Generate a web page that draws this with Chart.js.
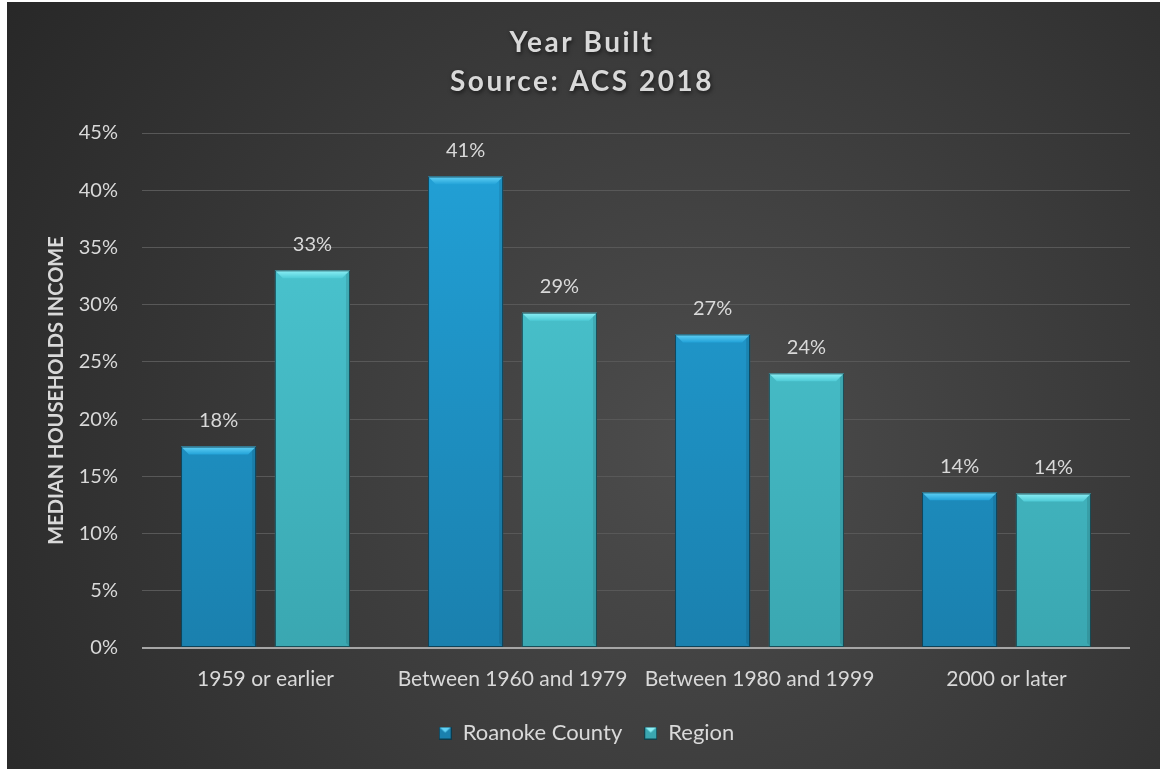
<!DOCTYPE html>
<html>
<head>
<meta charset="utf-8">
<script src="https://cdn.jsdelivr.net/npm/chart.js@4.4.1/dist/chart.umd.min.js"></script>
<style>
  html, body { margin: 0; padding: 0; background: #fff; overflow: hidden; }
  #wrap { position: absolute; left: 7px; top: 2px; width: 1153px; height: 767px; }
</style>
</head>
<body>
<div id="wrap"><canvas id="myChart"></canvas></div>
<script>
const categories = ['1959 or earlier', 'Between 1960 and 1979', 'Between 1980 and 1999', '2000 or later'];
const roanokeValues = [17.6, 41.2, 27.4, 13.6];
const regionValues = [33.0, 29.3, 24.0, 13.5];
const titleLines = ['Year Built', 'Source: ACS 2018'];
const fontFamily = 'Lato, "Open Sans", sans-serif';
const textColor = '#d9d9d9';

// colour pairs [top, bottom, bevel]
const seriesColors = [
    ['#22a2d8', '#1a80ae', '#62d2f6'],
    ['#4ecbd6', '#3aa7b1', '#8ef0f6']
];

const vgrad = (ctx, area, c1, c2) => {
    const g = ctx.createLinearGradient(0, area.top, 0, area.bottom);
    g.addColorStop(0, c1);
    g.addColorStop(1, c2);
    return g;
};

const backgroundPlugin = {
    id: 'bg',
    afterLayout(chart) {
        // legend sits a bit right of centre in the original
        chart.legend.left += 18;
        chart.legend.right += 18;
    },
    beforeDraw(chart) {
        const { ctx, width, height } = chart;
        ctx.save();
        const g = ctx.createRadialGradient(width * 0.6, height * 0.58, 20, width * 0.6, height * 0.58, width * 0.75);
        g.addColorStop(0, '#4c4c4c');
        g.addColorStop(1, '#262626');
        ctx.fillStyle = g;
        ctx.fillRect(0, 0, width, height);
        ctx.restore();
    },
    afterDraw(chart) {
        const { ctx } = chart;
        ctx.save();
        ctx.fillStyle = textColor;
        ctx.font = 'bold 28px ' + fontFamily;
        ctx.letterSpacing = '2.5px';
        ctx.textAlign = 'center';
        ctx.textBaseline = 'middle';
        ctx.shadowColor = 'rgba(0,0,0,0.6)';
        ctx.shadowBlur = 4;
        ctx.shadowOffsetX = 1;
        ctx.shadowOffsetY = 2;
        const cx = 582 - 7;
        ctx.fillText(titleLines[0], cx, 41);
        ctx.fillText(titleLines[1], cx, 80);
        ctx.restore();
    }
};

// bevel on top of each bar + value label
const bevelPlugin = {
    id: 'bevel',
    afterDatasetsDraw(chart) {
        const { ctx } = chart;
        chart.data.datasets.forEach((ds, i) => {
            const meta = chart.getDatasetMeta(i);
            meta.data.forEach((bar, j) => {
                const left = bar.x - bar.width / 2;
                const right = bar.x + bar.width / 2;
                const top = bar.y;
                const bevel = 8;
                ctx.save();
                ctx.beginPath();
                ctx.moveTo(left, top);
                ctx.lineTo(right, top);
                ctx.lineTo(right - bevel, top + bevel);
                ctx.lineTo(left + bevel, top + bevel);
                ctx.closePath();
                const g = ctx.createLinearGradient(0, top, 0, top + bevel);
                g.addColorStop(0, seriesColors[i][2]);
                g.addColorStop(1, seriesColors[i][0]);
                ctx.fillStyle = g;
                ctx.fill();
                // side shading
                ctx.fillStyle = 'rgba(0,0,0,0.1)';
                ctx.beginPath();
                ctx.moveTo(right, top);
                ctx.lineTo(right, bar.base);
                ctx.lineTo(right - 4, bar.base - 4);
                ctx.lineTo(right - 4, top + 4);
                ctx.closePath();
                ctx.fill();
                ctx.strokeStyle = 'rgba(10,40,50,0.7)';
                ctx.lineWidth = 1;
                ctx.strokeRect(left + 0.5, top + 0.5, bar.width - 1, bar.base - top - 1);
                ctx.fillStyle = textColor;
                ctx.font = '20px ' + fontFamily;
                ctx.textAlign = 'center';
                ctx.textBaseline = 'middle';
                ctx.fillText(Math.round(ds.data[j]) + '%', bar.x, top - 26);
                ctx.restore();
            });
        });
    }
};

const makeLegendBox = (c) => {
    const cv = document.createElement('canvas');
    cv.width = 13; cv.height = 13;
    const x = cv.getContext('2d');
    x.fillStyle = c[1];
    x.fillRect(0, 0, 13, 13);
    x.fillStyle = c[2];
    x.beginPath();
    x.moveTo(0, 0); x.lineTo(13, 0); x.lineTo(6.5, 6); x.closePath();
    x.fill();
    x.strokeStyle = 'rgba(10,40,50,0.8)';
    x.strokeRect(0.5, 0.5, 12, 12);
    return cv;
};

const ctx = document.getElementById('myChart').getContext('2d');
const myChart = new Chart(ctx, {
    type: 'bar',
    data: {
        labels: categories,
        datasets: [{
            label: 'Roanoke County',
            data: roanokeValues,
            backgroundColor: (c) => c.chart.chartArea ? vgrad(c.chart.ctx, c.chart.chartArea, seriesColors[0][0], seriesColors[0][1]) : seriesColors[0][0],
            borderWidth: 0,
            categoryPercentage: 0.76,
            barPercentage: 0.8
        }, {
            label: 'Region',
            data: regionValues,
            backgroundColor: (c) => c.chart.chartArea ? vgrad(c.chart.ctx, c.chart.chartArea, seriesColors[1][0], seriesColors[1][1]) : seriesColors[1][0],
            borderWidth: 0,
            categoryPercentage: 0.76,
            barPercentage: 0.8
        }]
    },
    options: {
        responsive: true,
        maintainAspectRatio: false,
        animation: false,
        layout: { padding: { top: 131, right: 30, left: 0, bottom: 15 } },
        scales: {
            y: {
                min: 0,
                max: 45,
                afterFit: (scale) => { scale.width = 135; },
                ticks: {
                    stepSize: 5,
                    color: textColor,
                    padding: 24,
                    font: { family: fontFamily, size: 20 },
                    callback: (v) => v + '%'
                },
                grid: {
                    color: (c) => c.tick.value === 0 ? '#a6a6a6' : '#585858',
                    lineWidth: (c) => c.tick.value === 0 ? 2 : 1,
                    drawTicks: false
                },
                border: { display: false },
                title: {
                    display: true,
                    text: 'MEDIAN HOUSEHOLDS INCOME',
                    color: textColor,
                    font: { family: fontFamily, size: 20, weight: 'bold' },
                    padding: { top: 38, bottom: 0 }
                }
            },
            x: {
                afterFit: (scale) => { scale.height = 52; },
                ticks: {
                    color: textColor,
                    padding: 19,
                    font: { family: fontFamily, size: 21 }
                },
                grid: { display: false, drawTicks: false },
                border: { display: false }
            }
        },
        plugins: {
            legend: {
                display: true,
                position: 'bottom',
                labels: {
                    color: textColor,
                    font: { family: fontFamily, size: 22 },
                    padding: 22,
                    usePointStyle: true,
                    pointStyleWidth: 13,
                    generateLabels: (chart) => chart.data.datasets.map((ds, i) => ({
                        text: ds.label,
                        pointStyle: makeLegendBox(seriesColors[i]),
                        fontColor: textColor,
                        datasetIndex: i,
                        hidden: false
                    }))
                }
            },
            title: { display: false },
            tooltip: { enabled: false }
        }
    },
    plugins: [backgroundPlugin, bevelPlugin]
});
</script>
</body>
</html>
